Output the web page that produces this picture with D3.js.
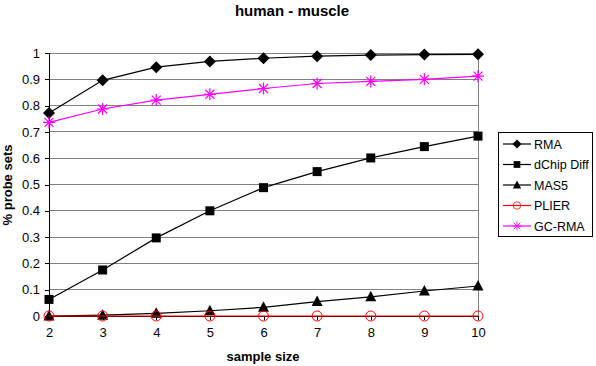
<!DOCTYPE html>
<html>
<head>
<meta charset="utf-8">
<script src="https://cdn.jsdelivr.net/npm/d3@7"></script>
<style>
  body { margin: 0; background: #fff; }
  svg { display: block; font-family: "Liberation Sans", Arial, sans-serif; }
</style>
</head>
<body>
<script>
'use strict';

var sampleSizes = [2, 3, 4, 5, 6, 7, 8, 9, 10];
var yTicks = [0, 0.1, 0.2, 0.3, 0.4, 0.5, 0.6, 0.7, 0.8, 0.9, 1];
var rma    = [0.772, 0.896, 0.946, 0.968, 0.980, 0.988, 0.992, 0.994, 0.995];
var dchip  = [0.063, 0.175, 0.297, 0.400, 0.488, 0.549, 0.601, 0.644, 0.684];
var mas5   = [0.000, 0.003, 0.010, 0.020, 0.033, 0.055, 0.073, 0.095, 0.114];
var plier  = [0, 0, 0, 0, 0, 0, 0, 0, 0];
var gcrma  = [0.736, 0.787, 0.821, 0.843, 0.865, 0.884, 0.892, 0.900, 0.912];

var series = [
    {name: "RMA",        values: rma,   color: "#000", marker: "diamond"},
    {name: "dChip Diff", values: dchip, color: "#000", marker: "square"},
    {name: "MAS5",       values: mas5,  color: "#000", marker: "triangle"},
    {name: "PLIER",      values: plier, color: "#f00", marker: "circle"},
    {name: "GC-RMA",     values: gcrma, color: "#f0f", marker: "star"}
];

var width = 596, height = 366;
var svg = d3.select("body").append("svg")
    .attr("width", width).attr("height", height);

var x = d3.scaleLinear().domain([2, 10]).range([49, 478]);
var y = d3.scaleLinear().domain([0, 1]).range([316, 53]);

// title + axis titles
svg.append("text").attr("x", 292).attr("y", 16)
    .attr("text-anchor", "middle").style("font-weight", "bold").style("font-size", "15px")
    .text("human - muscle");
svg.append("text").attr("x", 263).attr("y", 361)
    .attr("text-anchor", "middle").style("font-weight", "bold").style("font-size", "13px")
    .text("sample size");
svg.append("text").attr("transform", "translate(12,185) rotate(-90)")
    .attr("text-anchor", "middle").style("font-weight", "bold").style("font-size", "13px")
    .text("% probe sets");

// gridlines
svg.append("g").selectAll("line").data(yTicks.filter(function(d){return d > 0;}))
    .enter().append("line")
    .attr("x1", x(2)).attr("x2", x(10))
    .attr("y1", function(d){return y(d);}).attr("y2", function(d){return y(d);})
    .attr("stroke", "#808080").attr("stroke-width", 1)
    .attr("shape-rendering", "crispEdges");
// right border
svg.append("line").attr("x1", x(10)).attr("x2", x(10)).attr("y1", y(1)).attr("y2", y(0))
    .attr("stroke", "#808080").attr("shape-rendering", "crispEdges");

// axes
var yAxis = svg.append("g").attr("transform", "translate(" + x(2) + ",0)")
    .call(d3.axisLeft(y).tickValues(yTicks).tickSize(4).tickPadding(5)
        .tickFormat(function(d){return d3.format("")(+d.toFixed(1));}));
var xAxis = svg.append("g").attr("transform", "translate(0," + y(0) + ")")
    .call(d3.axisBottom(x).tickValues(sampleSizes).tickSize(4).tickPadding(6));
[yAxis, xAxis].forEach(function(a) {
    a.select(".domain").attr("stroke", "#000").attr("shape-rendering", "crispEdges");
    a.selectAll(".tick line").attr("stroke", "#000").attr("shape-rendering", "crispEdges");
    a.selectAll("text").style("font-size", "13px").style("font-family", "Liberation Sans, Arial, sans-serif")
        .attr("fill", "#000");
});
xAxis.selectAll("text").attr("dy", "0.85em");

function drawMarker(g, type, color) {
    if (type === "diamond") {
        g.append("path").attr("d", "M0,-6L6,0L0,6L-6,0Z").attr("fill", color);
    } else if (type === "square") {
        g.append("rect").attr("x", -4.5).attr("y", -4.5).attr("width", 9).attr("height", 9).attr("fill", color);
    } else if (type === "triangle") {
        g.append("path").attr("d", "M0,-6L5.5,4.5L-5.5,4.5Z").attr("fill", color);
    } else if (type === "circle") {
        g.append("circle").attr("r", 5).attr("fill", "none").attr("stroke", color);
    } else if (type === "star") {
        g.append("path").attr("d", "M0,-6V6M-6,0H6M-4.5,-4.5L4.5,4.5M-4.5,4.5L4.5,-4.5")
            .attr("stroke", color).attr("stroke-width", 1.2).attr("fill", "none");
    }
}

var line = d3.line()
    .x(function(d, i){return x(sampleSizes[i]);})
    .y(function(d){return y(d);});

series.forEach(function(s) {
    svg.append("path").datum(s.values)
        .attr("d", line).attr("fill", "none")
        .attr("stroke", s.color).attr("stroke-width", 1.2);
    s.values.forEach(function(v, i) {
        var g = svg.append("g").attr("transform", "translate(" + x(sampleSizes[i]) + "," + y(v) + ")");
        drawMarker(g, s.marker, s.color);
    });
});

// legend
var legend = svg.append("g");
legend.append("rect").attr("x", 498.5).attr("y", 132.5).attr("width", 94).attr("height", 104)
    .attr("fill", "#fff").attr("stroke", "#000");
series.forEach(function(s, i) {
    var ly = 144 + i * 20.5;
    legend.append("line").attr("x1", 503).attr("x2", 531).attr("y1", ly).attr("y2", ly)
        .attr("stroke", s.color).attr("stroke-width", 1.2);
    var g = legend.append("g").attr("transform", "translate(517," + ly + ") scale(0.75)");
    drawMarker(g, s.marker, s.color);
    legend.append("text").attr("x", 534).attr("y", ly + 4.5)
        .style("font-size", "12.5px").text(s.name);
});
</script>
</body>
</html>
